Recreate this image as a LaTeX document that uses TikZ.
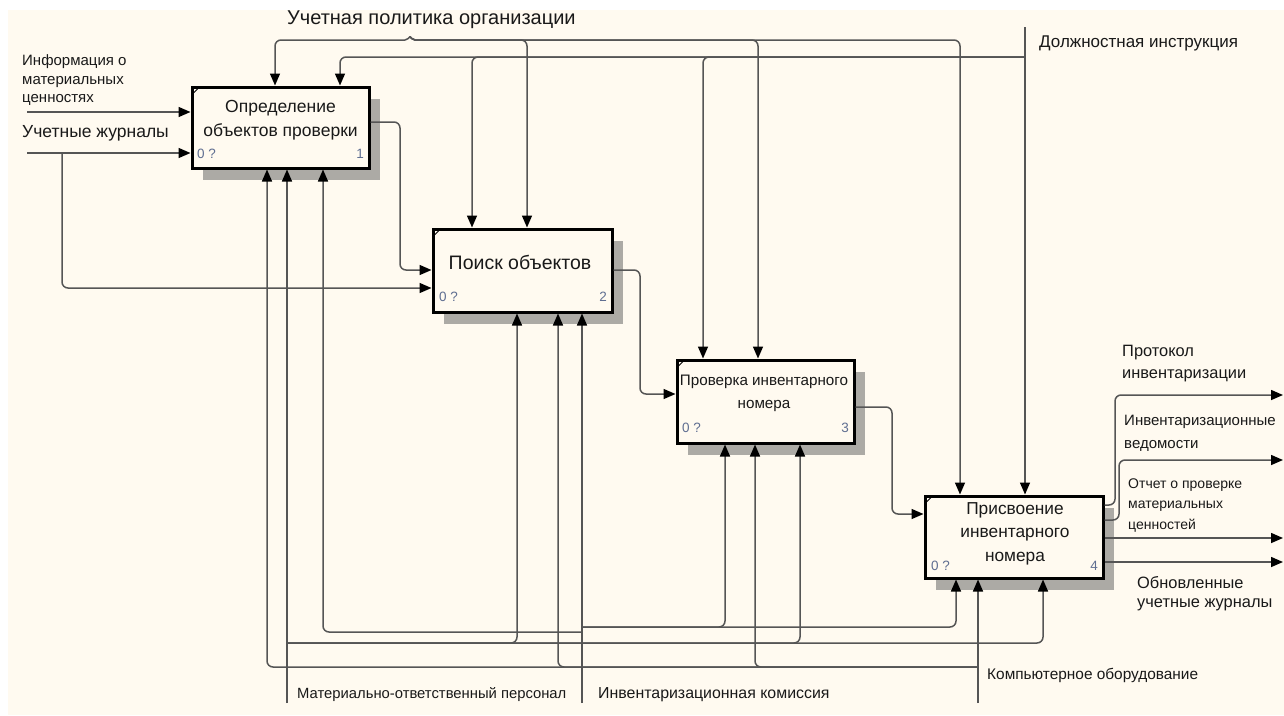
\documentclass[tikz,border=0pt]{standalone}
\usepackage{fontspec}
\setmainfont{Liberation Sans}
\usetikzlibrary{arrows.meta,shadows}
\definecolor{bg}{RGB}{255,250,240}
\definecolor{ln}{RGB}{85,85,85}
\definecolor{shd}{RGB}{172,170,165}
\definecolor{numc}{RGB}{95,110,145}
\newcommand\myfs[2]{\fontsize{#1}{#2}\selectfont}
\begin{document}
\begin{tikzpicture}[x=1pt,y=-1pt,
  conn/.style={draw=ln, line width=1.5pt, rounded corners=6pt},
  arr/.style={conn, -{Triangle[length=12pt,width=10pt,color=black]}},
  box/.style={draw=black, line width=3pt, fill=bg, minimum width=177pt, minimum height=81pt, inner sep=0pt,
     drop shadow={shadow xshift=11pt, shadow yshift=-12pt, fill=shd, opacity=1}},
  btext/.style={align=center, inner sep=0pt, text=black!90},
  lbl/.style={anchor=west, align=left, inner sep=0pt, text=black!90},
  numl/.style={inner sep=0pt, text=numc, font=\myfs{13.5}{15}},
  corner/.style={draw=black, line width=1pt}
]
\useasboundingbox (0,0) rectangle (1284,715);
\fill[white] (0,0) rectangle (1284,715);
\fill[bg] (8,10) rectangle (1284,715);

% boxes
\node[box] (b1) at (280.5,127.5) {};
\node[box, minimum width=179pt, minimum height=83pt] (b2) at (522.5,270.5) {};
\node[box, minimum height=83pt] (b3) at (765.5,401.5) {};
\node[box, minimum width=178pt, minimum height=82pt] (b4) at (1014,537) {};

\foreach \b in {b1,b2,b3,b4}{
  \draw[corner] ([shift={(1.5,9)}]\b.north west) -- ([shift={(9,1.5)}]\b.north west);
}

\node[btext, font=\myfs{17.5}{24}] (t1) at (280.5,120) {Определение\\объектов проверки};
\node[btext, font=\myfs{19.5}{24}] (t2) at (520,262) {Поиск объектов};
\node[btext, font=\myfs{15.2}{23}] (t3) at (764,393.5) {Проверка инвентарного\\номера};
\node[btext, font=\myfs{17.3}{23.5}] (t4) at (1015,533.5) {Присвоение\\инвентарного\\номера};

\node[numl, anchor=west] (n1a) at (197,154) {0 ?};
\node[numl, anchor=east] (n1b) at (364,154) {1};
\node[numl, anchor=west] (n2a) at (439,297) {0 ?};
\node[numl, anchor=east] (n2b) at (607,297) {2};
\node[numl, anchor=west] (n3a) at (682,428) {0 ?};
\node[numl, anchor=east] (n3b) at (849,428) {3};
\node[numl, anchor=west] (n4a) at (931,566) {0 ?};
\node[numl, anchor=east] (n4b) at (1098,566) {4};

% inputs
\coordinate (i1) at (27,112);
\coordinate (i2) at (27,153);
\coordinate (j1) at (62,153);
\draw[arr] (i1) -- (i1 -| b1.west);
\draw[arr] (i2) -- (i2 -| b1.west);
\draw[arr] (j1) |- (b2.west |- 0,288);

% box to box
\draw[arr] (b1.east |- 0,122) -- (400,122) |- (b2.west |- 0,270);
\draw[arr] (b2.east |- 0,270) -- (640,270) |- (b3.west |- 0,394);
\draw[arr] (b3.east |- 0,407) -- (892,407) |- (b4.west |- 0,514);

% outputs
\coordinate (o1) at (1283,395);
\coordinate (o2) at (1283,460);
\coordinate (o3) at (1283,538);
\coordinate (o4) at (1283,562);
\draw[arr] (b4.east |- 0,505) -- (1115,505) |- (o1);
\draw[arr] (b4.east |- 0,520) -- (1119,520) |- (o2);
\draw[arr] (b4.east |- 0,538) -- (o3);
\draw[arr] (b4.east |- 0,562) -- (o4);

% controls
\coordinate (c1) at (410,36.5);
\draw[arr, rounded corners=2pt] (c1) -- (407,40) -- (400,40) [rounded corners=6pt] -| (275,0 |- b1.north);
\draw[arr, rounded corners=2pt] (c1) -- (413,40) -- (420,40) [rounded corners=6pt] -| (527,0 |- b2.north);
\draw[arr, rounded corners=2pt] (c1) -- (413,40) -- (420,40) [rounded corners=6pt] -| (758,0 |- b3.north);
\draw[arr, rounded corners=2pt] (c1) -- (413,40) -- (420,40) [rounded corners=6pt] -| (960,0 |- b4.north);

\coordinate (c2) at (1025,27);
\coordinate (c2j) at (1025,57);
\draw[arr] (c2) -- (c2 |- b4.north);
\draw[arr] (c2j) -| (340,0 |- b1.north);
\draw[arr] (c2j) -| (472,0 |- b2.north);
\draw[arr] (c2j) -| (703,0 |- b3.north);

% mechanisms
\coordinate (m1) at (287,703);
\coordinate (m1j) at (287,643);
\draw[arr] (m1) -- (m1 |- b1.south);
\draw[arr] (m1j) -| (517,0 |- b2.south);
\draw[arr] (m1j) -| (800,0 |- b3.south);
\draw[arr] (m1j) -| (1043,0 |- b4.south);

\coordinate (m2) at (582,703);
\coordinate (m2a) at (582,632);
\coordinate (m2b) at (582,627);
\draw[arr] (m2) -- (m2 |- b2.south);
\draw[arr] (m2a) -| (323,0 |- b1.south);
\draw[arr] (m2b) -| (725,0 |- b3.south);
\draw[arr] (m2b) -| (956,0 |- b4.south);

\coordinate (m3) at (978,703);
\coordinate (m3j) at (978,667);
\draw[arr] (m3) -- (m3 |- b4.south);
\draw[arr] (m3j) -| (267,0 |- b1.south);
\draw[arr] (m3j) -| (558,0 |- b2.south);
\draw[arr] (m3j) -| (755,0 |- b3.south);

% labels
\node[lbl, font=\myfs{20}{22}] (lc1) at (287,20) {Учетная политика организации};
\node[lbl, font=\myfs{17}{20}] (lc2) at (1039,43) {Должностная инструкция};
\node[lbl, font=\myfs{15}{18.5}] (li1) at (22,80.5) {Информация о\\материальных\\ценностях};
\node[lbl, font=\myfs{17.5}{20}] (li2) at (22,133) {Учетные журналы};
\node[lbl, font=\myfs{16.4}{22}] (lo1) at (1122,364) {Протокол\\инвентаризации};
\node[lbl, font=\myfs{15}{23}] (lo2) at (1124,433.5) {Инвентаризационные\\ведомости};
\node[lbl, font=\myfs{14}{20.5}] (lo3) at (1128,505) {Отчет о проверке\\материальных\\ценностей};
\node[lbl, font=\myfs{16.4}{19}] (lo4) at (1137,594) {Обновленные\\учетные журналы};
\node[lbl, font=\myfs{14.8}{18}] (lm1) at (297,695) {Материально-ответственный персонал};
\node[lbl, font=\myfs{15.9}{18}] (lm2) at (598,695) {Инвентаризационная комиссия};
\node[lbl, font=\myfs{15.4}{18}] (lm3) at (987,675) {Компьютерное оборудование};
\end{tikzpicture}
\end{document}
